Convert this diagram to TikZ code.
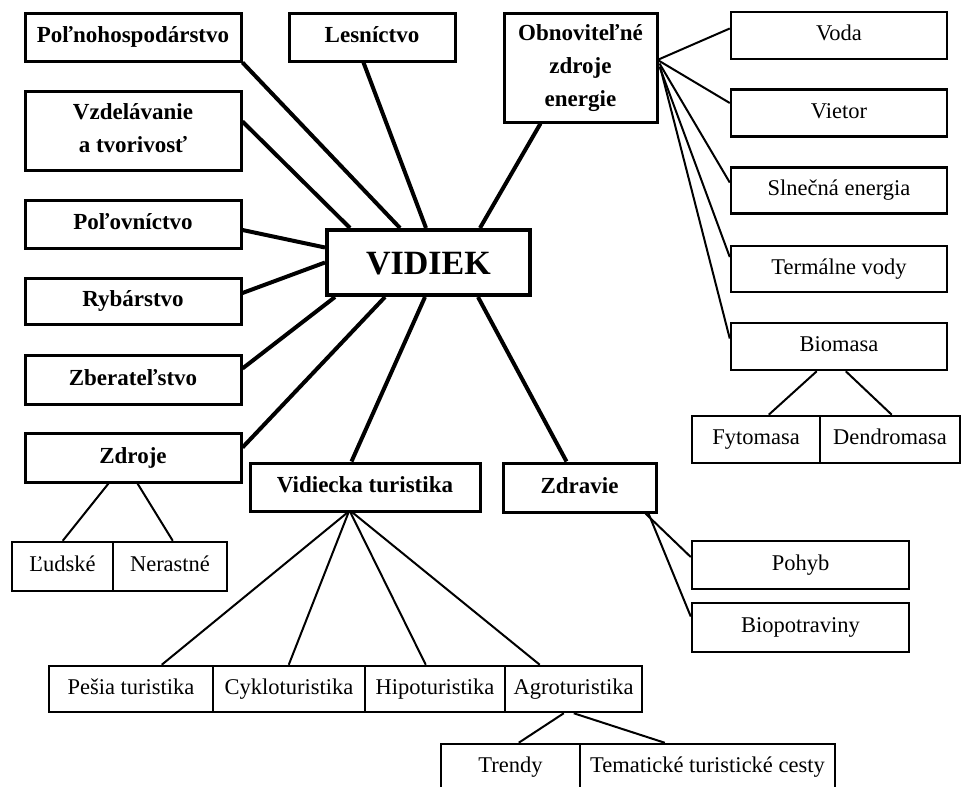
\documentclass[tikz,border=0pt]{standalone}
\usepackage{fontspec}
\setmainfont{Liberation Serif}
\usetikzlibrary{calc}
\begin{document}
\begin{tikzpicture}[x=1pt,y=-1pt,
  bbox/.style={draw, line width=3pt, inner sep=0pt, align=center,
    text height=16pt, text depth=5pt,
    font=\fontsize{23}{33}\selectfont\bfseries},
  tbox/.style={draw, line width=2.5pt, inner sep=0pt, align=center,
    text height=15.5pt, text depth=5pt,
    font=\fontsize{22.5}{28}\selectfont},
  conn/.style={line width=4pt},
  thinl/.style={line width=2pt}]
\useasboundingbox (0,0) rectangle (962,787);
\clip (0,0) rectangle (962,787);
\fill[white] (0,0) rectangle (962,787);
% left column (bold)
\node[bbox, minimum width=216pt, minimum height=48pt] (pol) at (133,37) {Poľnohospodárstvo};
\node[bbox, minimum width=166pt, minimum height=48pt] (les) at (372,37) {Lesníctvo};
\node[bbox, minimum width=216pt, minimum height=79pt, text height=49pt] (vzd) at (133,130.5) {Vzdelávanie\\a tvorivosť};
\node[bbox, minimum width=216pt, minimum height=48pt] (polov) at (133,224) {Poľovníctvo};
\node[bbox, minimum width=216pt, minimum height=46pt] (ryb) at (133,301) {Rybárstvo};
\node[bbox, minimum width=216pt, minimum height=49pt] (zber) at (133,379.5) {Zberateľstvo};
\node[bbox, minimum width=216pt, minimum height=49pt] (zdr) at (133,457.5) {Zdroje};
\node[tbox, minimum width=101pt, minimum height=49pt] (lud) at (62.5,566.5) {Ľudské};
\node[tbox, minimum width=114pt, minimum height=49pt] (ner) at (170,566.5) {Nerastné};
% centre
\node[bbox, line width=4pt, minimum width=203pt, minimum height=65pt,
  text height=24pt, text depth=0pt,
  font=\fontsize{34}{40}\selectfont\bfseries] (vid) at (428.5,262.5) {VIDIEK};
% renewable energy
\node[bbox, minimum width=153pt, minimum height=109pt, text height=82pt] (obn) at (580.5,67.5) {Obnoviteľné\\zdroje\\energie};
\node[tbox, minimum width=216pt, minimum height=47pt] (voda) at (839,35.5) {Voda};
\node[tbox, minimum width=216pt, minimum height=47pt] (viet) at (839,113) {Vietor};
\node[tbox, minimum width=216pt, minimum height=46pt] (sln) at (839,190.5) {Slnečná energia};
\node[tbox, minimum width=216pt, minimum height=46pt] (term) at (839,269) {Termálne vody};
\node[tbox, minimum width=216pt, minimum height=47pt] (bio) at (839,346.5) {Biomasa};
\node[tbox, minimum width=128pt, minimum height=47pt] (fyt) at (756,439.5) {Fytomasa};
\node[tbox, minimum width=140pt, minimum height=47pt] (den) at (890,439.5) {Dendromasa};
% health
\node[bbox, minimum width=153pt, minimum height=49pt] (zdrav) at (579.5,487.5) {Zdravie};
\node[tbox, minimum width=217pt, minimum height=48pt] (pohyb) at (800.5,565) {Pohyb};
\node[tbox, minimum width=217pt, minimum height=49pt] (biop) at (800.5,627.5) {Biopotraviny};
% rural tourism
\node[bbox, minimum width=230pt, minimum height=48pt] (vt) at (365,487) {Vidiecka turistika};
\node[tbox, minimum width=164pt, minimum height=46pt] (pesia) at (131,689) {Pešia turistika};
\node[tbox, minimum width=152pt, minimum height=46pt] (cyklo) at (289,689) {Cykloturistika};
\node[tbox, minimum width=140pt, minimum height=46pt] (hipo) at (435,689) {Hipoturistika};
\node[tbox, minimum width=137pt, minimum height=46pt] (agro) at (573.5,689) {Agroturistika};
\node[tbox, minimum width=139pt, minimum height=60pt, text height=15.5pt, text depth=19pt] (trendy) at (510.5,774) {Trendy};
\node[tbox, minimum width=255pt, minimum height=60pt, text height=15.5pt, text depth=19pt] (tema) at (707.5,774) {Tematické turistické cesty};
% thick connectors
\draw[conn] (pol.south east) -- ($(vid.north west)+(75,0)$);
\draw[conn] ($(les.south west)+(76,0)$) -- ($(vid.north west)+(101,0)$);
\draw[conn] ($(vzd.north east)+(0,32)$) -- ($(vid.north west)+(25,0)$);
\draw[conn] ($(polov.east)+(0,6)$) -- ($(vid.west)+(0,-15)$);
\draw[conn] ($(ryb.east)+(0,-8)$) -- (vid.west);
\draw[conn] ($(zber.east)+(0,-11)$) -- ($(vid.south west)+(10,0)$);
\draw[conn] ($(zdr.east)+(0,-10)$) -- ($(vid.south west)+(60,0)$);
\draw[conn] ($(vt.north west)+(103,0)$) -- ($(vid.south west)+(100,0)$);
\draw[conn] ($(zdrav.north west)+(65,0)$) -- ($(vid.south west)+(153,0)$);
\draw[conn] ($(obn.south west)+(38,0)$) -- ($(vid.north west)+(155,0)$);
% thin connectors: renewable energy
\draw[thinl] ($(obn.east)+(0,-8)$) -- ($(voda.west)+(0,-7)$);
\draw[thinl] ($(obn.east)+(0,-7)$) -- ($(viet.west)+(0,-10)$);
\draw[thinl] ($(obn.east)+(1,-4)$) -- ($(sln.west)+(0,-8)$);
\draw[thinl] ($(obn.east)+(1,-1)$) -- ($(term.west)+(0,-12)$);
\draw[thinl] ($(obn.east)+(2,1)$) -- ($(bio.west)+(0,-8)$);
\draw[thinl] ($(bio.south west)+(87,0)$) -- ($(fyt.north west)+(78,0)$);
\draw[thinl] ($(bio.south west)+(116,0)$) -- ($(den.north west)+(73,0)$);
% resources
\draw[thinl] ($(zdr.south west)+(85,0)$) -- ($(lud.north west)+(52,0)$);
\draw[thinl] ($(zdr.south west)+(114,0)$) -- ($(ner.north west)+(61,0)$);
% health
\draw[thinl] ($(zdrav.south east)+(-12,0)$) -- ($(pohyb.west)+(0,-8)$);
\draw[thinl] ($(zdrav.south east)+(-9,0)$) -- ($(biop.west)+(0,-11)$);
% tourism
\draw[thinl] ($(vt.south west)+(99,0)$) -- ($(pesia.north west)+(114,0)$);
\draw[thinl] ($(vt.south west)+(100,0)$) -- ($(cyklo.north west)+(77,0)$);
\draw[thinl] ($(vt.south west)+(102,0)$) -- ($(hipo.north west)+(62,0)$);
\draw[thinl] ($(vt.south west)+(104,0)$) -- ($(agro.north west)+(36,0)$);
\draw[thinl] ($(agro.south west)+(60,0)$) -- ($(trendy.north west)+(79,0)$);
\draw[thinl] ($(agro.south west)+(70,0)$) -- ($(tema.north west)+(86,0)$);
\end{tikzpicture}
\end{document}
